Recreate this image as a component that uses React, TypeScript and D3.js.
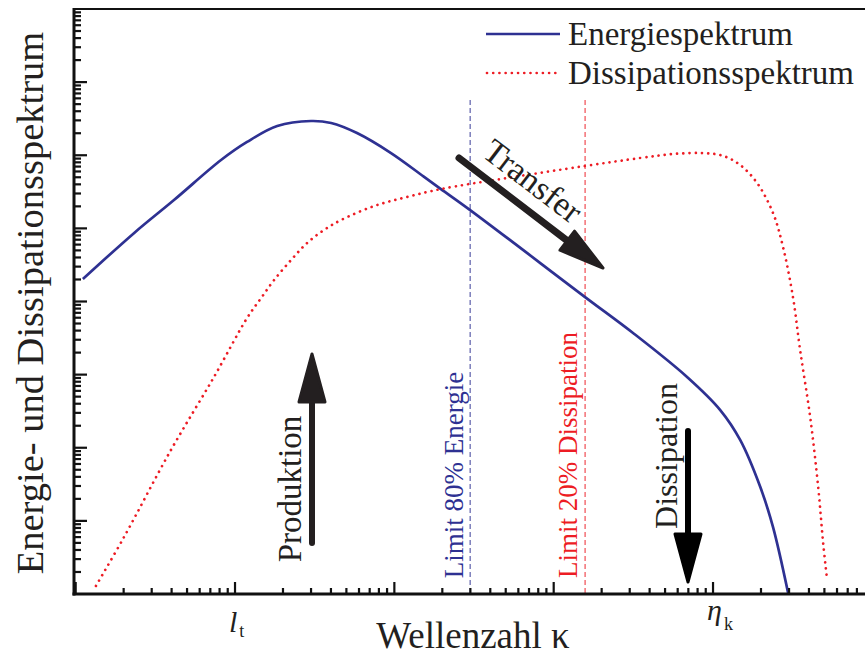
import React from 'react';
import * as d3 from 'd3';

// ---- data ----
const kappaE = [1.11, 2.32, 4.14, 8.17, 11.9, 18.4, 30.0, 40.1, 58.3, 95.3, 153, 196, 299, 1574, 3148, 6871, 11100, 14800, 19800, 23800, 29600];
const energy = [2.03e4, 8.6e4, 2.44e5, 8.6e5, 1.52e6, 2.51e6, 2.94e6, 2.76e6, 2.01e6, 1.07e6, 5.1e5, 3.45e5, 1.78e5, 1.15e4, 3.71e3, 929, 328, 128, 29, 8.2, 1.03];
const kappaD = [1.34, 2.01, 3.96, 7.38, 11.9, 14.6, 17.6, 22.5, 28.3, 36.2, 46.3, 74.6, 120, 196, 510, 1574, 3483, 5618, 8670, 11600, 14800, 18900, 23800, 27500, 31800, 35200, 40700, 45700, 49100, 52000];
const dissipation = [1.29, 6.0, 93, 929, 5940, 1.12e4, 1.97e4, 3.7e4, 6.3e4, 9.5e4, 1.3e5, 2.02e5, 2.69e5, 3.45e5, 4.88e5, 7.13e5, 9.17e5, 1.04e6, 1.07e6, 9.8e5, 7.36e5, 4.18e5, 1.62e5, 5.56e4, 1.12e4, 2170, 264, 29, 5.0, 1.56];
const limitKappa = [299, 1574];
const limitTop = [5.7e6, 5.7e6];
const limitLabels = ['Limit 80% Energie', 'Limit 20% Dissipation'];
const xTickKappa = [10, 1e4];
const xTickMain = ['l', 'η'];
const xTickSub = ['t', 'k'];
const legendLabels = ['Energiespektrum', 'Dissipationsspektrum'];
const xTitle = 'Wellenzahl κ';
const yTitle = 'Energie- und Dissipationsspektrum';

// ---- layout ----
const W = 865, H = 655;
const X0 = 74, X1 = 865, Y0 = 594, Y1 = 9;
const BLUE = '#2E3192', RED = '#ED1C24', INK = '#231F20';
const FONT = '"Liberation Serif", "Times New Roman", serif';

const x = d3.scaleLog().domain([0.976, 8.99e4]).range([X0, X1]);
const y = d3.scaleLog().domain([1, 1e8]).range([Y0, Y1]);

function logTicks(lo: number, hi: number) {
  const out: { v: number; major: boolean }[] = [];
  for (let d = Math.floor(Math.log10(lo)) - 1; d <= Math.ceil(Math.log10(hi)); d++) {
    for (let m = 1; m <= 9; m++) {
      const v = m * Math.pow(10, d);
      if (v > lo * 1.001 && v < hi * 0.999) out.push({ v, major: m === 1 });
    }
  }
  return out;
}

function Arrow({ x1, y1, x2, y2, headLen, headW, shaftW, color }: any) {
  const dx = x2 - x1, dy = y2 - y1;
  const L = Math.hypot(dx, dy);
  const ux = dx / L, uy = dy / L;
  const px = -uy, py = ux;
  const bx = x2 - ux * headLen, by = y2 - uy * headLen;
  const pts = [
    [x2, y2],
    [bx + px * headW / 2, by + py * headW / 2],
    [bx - px * headW / 2, by - py * headW / 2],
  ];
  return (
    <g>
      <line x1={x1} y1={y1} x2={bx + ux * 4} y2={by + uy * 4} stroke={color} strokeWidth={shaftW} strokeLinecap="round" />
      <polygon points={pts.map(p => p.join(',')).join(' ')} fill={color} stroke={color} strokeWidth={3} strokeLinejoin="round" />
    </g>
  );
}

export default function App() {
  const lineE = d3.line<number>().x((_, i) => x(kappaE[i])).y(v => y(v)).curve(d3.curveCatmullRom.alpha(0.5));
  const lineD = d3.line<number>().x((_, i) => x(kappaD[i])).y(v => y(v)).curve(d3.curveCatmullRom.alpha(0.5));
  const xt = logTicks(x.domain()[0], x.domain()[1]);
  const yt = logTicks(y.domain()[0], y.domain()[1]);
  const limitColors = [BLUE, RED];
  const limitLabelX = [463, 577];
  const limitLabelY = [475, 455];

  return (
    <svg width={W} height={H} style={{ position: 'absolute', left: 0, top: 0, background: '#fff' }} fontFamily={FONT}>
      <rect x={0} y={0} width={W} height={H} fill="#fff" />
      {/* limit lines */}
      {limitKappa.map((k, i) => (
        <line key={'lim' + i} x1={x(k)} x2={x(k)} y1={y(limitTop[i])} y2={Y0} stroke={limitColors[i]} strokeWidth={1.1} strokeDasharray="5 3" opacity={0.85} />
      ))}
      {limitLabels.map((t, i) => (
        <text key={'ll' + i} transform={`translate(${limitLabelX[i]},${limitLabelY[i]}) rotate(-90)`} textAnchor="middle" fontSize={27} fill={limitColors[i]}>{t}</text>
      ))}
      {/* curves */}
      <path d={lineE(energy) || ''} fill="none" stroke={BLUE} strokeWidth={2.7} />
      <path d={lineD(dissipation) || ''} fill="none" stroke={RED} strokeWidth={2.7} strokeDasharray="0.01 6.2" strokeLinecap="round" />
      {/* axes */}
      <line x1={X0} x2={X1} y1={Y1} y2={Y1} stroke="#111" strokeWidth={2} />
      <line x1={X0} x2={X0} y1={Y1 - 1} y2={Y0 + 1.5} stroke="#111" strokeWidth={3} />
      <line x1={X0 - 1.5} x2={X1} y1={Y0} y2={Y0} stroke="#111" strokeWidth={3} />
      {yt.map((t, i) => (
        <line key={'yt' + i} x1={X0} x2={X0 + (t.major ? 13 : 7)} y1={y(t.v)} y2={y(t.v)} stroke="#111" strokeWidth={2.2} />
      ))}
      {xt.map((t, i) => (
        <line key={'xt' + i} x1={x(t.v)} x2={x(t.v)} y1={Y0} y2={Y0 - (t.major ? 12 : 6)} stroke="#111" strokeWidth={2.2} />
      ))}
      {xTickKappa.map((k, i) => (
        <text key={'xl' + i} x={x(k) - 6} y={i === 0 ? 632 : 620} fontSize={30} fill={INK} fontStyle="italic">
          {xTickMain[i]}
          <tspan fontStyle="normal" fontSize={18} dx={2} dy={i === 0 ? 5 : 10}>{xTickSub[i]}</tspan>
        </text>
      ))}
      {/* titles */}
      <text x={473} y={648} textAnchor="middle" fontSize={37} fill={INK}>{xTitle}</text>
      <text transform={`translate(43,303) rotate(-90)`} textAnchor="middle" fontSize={38.5} fill={INK}>{yTitle}</text>
      {/* legend */}
      <line x1={486} x2={560} y1={34} y2={34} stroke={BLUE} strokeWidth={2.7} />
      <line x1={487} x2={560} y1={73} y2={73} stroke={RED} strokeWidth={2.7} strokeDasharray="0.01 6.2" strokeLinecap="round" />
      <text x={568} y={45} fontSize={33} fill={INK}>{legendLabels[0]}</text>
      <text x={568} y={84} fontSize={33} fill={INK}>{legendLabels[1]}</text>
      {/* annotations */}
      <Arrow x1={312} y1={543} x2={312} y2={354} headLen={48} headW={26} shaftW={6} color={INK} />
      <text transform="translate(301,489) rotate(-90)" textAnchor="middle" fontSize={33} fill={INK}>Produktion</text>
      <Arrow x1={459} y1={158} x2={603} y2={268} headLen={45} headW={24} shaftW={7} color={INK} />
      <text transform="translate(526,190) rotate(37.4)" textAnchor="middle" fontSize={34} fill={INK}>Transfer</text>
      <Arrow x1={688} y1={431} x2={688} y2={582} headLen={48} headW={26} shaftW={6} color="#000" />
      <text transform="translate(677,456) rotate(-90)" textAnchor="middle" fontSize={32} fill={INK}>Dissipation</text>
    </svg>
  );
}
